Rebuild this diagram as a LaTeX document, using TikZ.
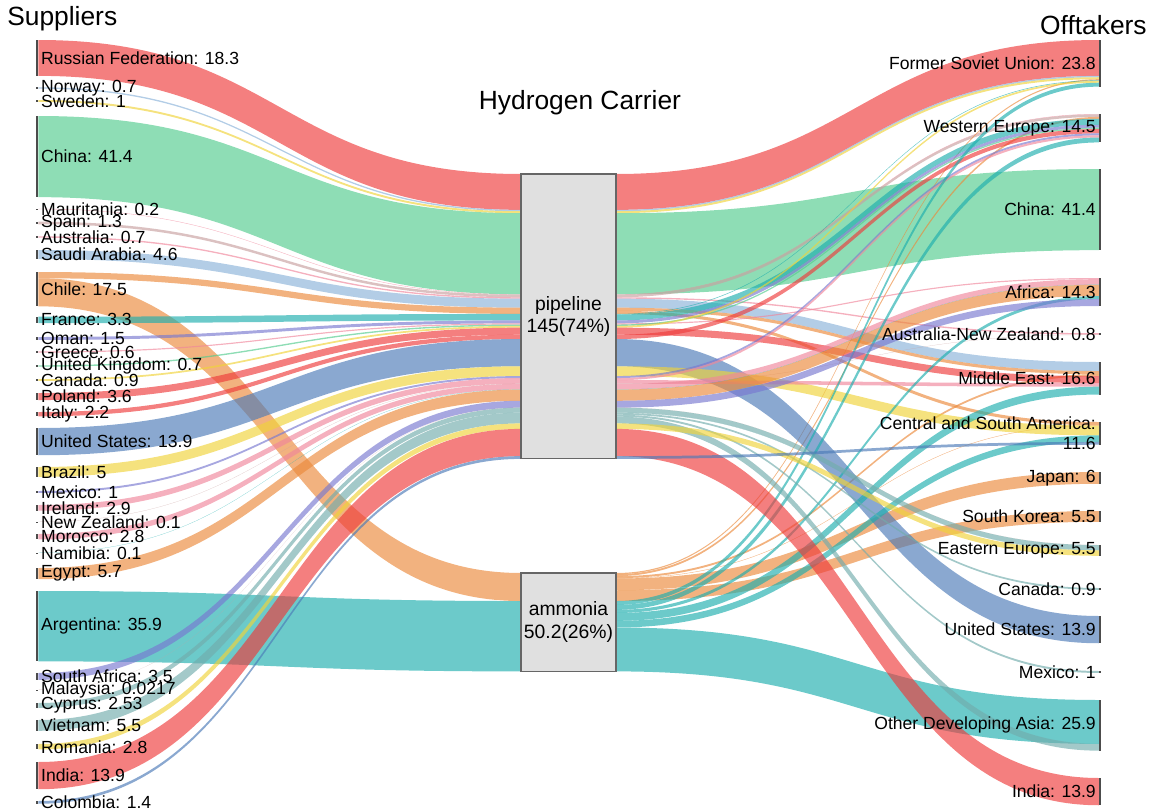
\documentclass[tikz,border=0pt]{standalone}
\usepackage{fontspec}
\setmainfont{Liberation Sans}
\usepackage{tikz}
\usetikzlibrary{positioning}
\usetikzlibrary{calc}
\usetikzlibrary{backgrounds}

\definecolor{cred}{HTML}{EE3B3B}
\definecolor{cgreen}{HTML}{52CB8D}
\definecolor{clblue}{HTML}{8AB2D9}
\definecolor{corange}{HTML}{EB893A}
\definecolor{cteal}{HTML}{1DAEAE}
\definecolor{cpurple}{HTML}{7878D0}
\definecolor{cpink}{HTML}{F0869B}
\definecolor{cyellow}{HTML}{F0D339}
\definecolor{csteel}{HTML}{4B7AB7}
\definecolor{cgteal}{HTML}{72ACAC}
\definecolor{cgray}{HTML}{C8A0A0}

\tikzstyle{sbar}=[rectangle, fill=black!70, inner sep=0pt, outer sep=0pt, minimum width=0.05cm, anchor=north]
\tikzstyle{slabel}=[anchor=west, inner sep=0pt, xshift=1.5pt, align=left, font=\fontsize{10}{11.5}\selectfont]
\tikzstyle{olabel}=[anchor=east, inner sep=0pt, xshift=-1.5pt, align=right, font=\fontsize{10}{11.5}\selectfont]
\tikzstyle{carrier}=[rectangle, draw=black!60, fill=black!12, line width=0.6pt, inner sep=0pt, outer sep=0pt, minimum width=1.9cm, anchor=north, align=center, font=\fontsize{11}{13}\selectfont]
\tikzstyle{title}=[inner sep=0pt, font=\fontsize{15}{18}\selectfont]
\tikzstyle{ribbon}=[fill opacity=.65]

% one band from #1 to #2, value #3, colour #4; bands stack at both ends
\newcommand{\flow}[4]{%
  \pgfmathsetmacro{\ya}{\csname o@#1\endcsname}%
  \pgfmathsetmacro{\yb}{\csname i@#2\endcsname}%
  \pgfmathsetmacro{\fh}{#3*1.96}%
  \fill[ribbon, #4] let \p1=($(#1.north east)+(0,\ya)$), \p2=($(#2.north west)+(0,\yb)$),
    \p3=($(#1.north east)+(0,\ya+\fh)$), \p4=($(#2.north west)+(0,\yb+\fh)$) in
    (\p1) .. controls ({(\x1+\x2)/2},\y1) and ({(\x1+\x2)/2},\y2) .. (\p2)
    -- (\p4) .. controls ({(\x3+\x4)/2},\y4) and ({(\x3+\x4)/2},\y3) .. (\p3) -- cycle;
  \pgfmathsetmacro{\ya}{\ya+\fh}\expandafter\xdef\csname o@#1\endcsname{\ya}%
  \pgfmathsetmacro{\yb}{\yb+\fh}\expandafter\xdef\csname i@#2\endcsname{\yb}%
}

\begin{document}
\begin{tikzpicture}[x=0.02cm, y=-0.02cm]
    \useasboundingbox (0,0) rectangle (1154,812);

    \node [title, anchor=west] (sup-title) at (7,19) {Suppliers};
    \node [title, anchor=east] (off-title) at (1147,25) {Offtakers};
    \node [title] (car-title) at (580,103) {Hydrogen Carrier};

    % suppliers
    \foreach \nm/\yt/\val/\txt in {sup-russia/40/18.3/{Russian Federation: 18.3},
      sup-norway/87.3/0.7/{Norway: 0.7}, sup-sweden/100/1/{Sweden: 1},
      sup-china/116/41.4/{China: 41.4}, sup-mauritania/208.8/0.2/{Mauritania: 0.2},
      sup-spain/221.7/1.3/{Spain: 1.3}, sup-australia/236.3/0.7/{Australia: 0.7},
      sup-saudi/250/4.6/{Saudi Arabia: 4.6}, sup-chile/272/17.5/{Chile: 17.5},
      sup-france/316.7/3.3/{France: 3.3}, sup-oman/337/1.5/{Oman: 1.5},
      sup-greece/351.4/0.6/{Greece: 0.6}, sup-uk/365.3/0.7/{United Kingdom: 0.7},
      sup-canada/379.1/0.9/{Canada: 0.9}, sup-poland/393/3.6/{Poland: 3.6},
      sup-italy/412/2.2/{Italy: 2.2}, sup-us/428/13.9/{United States: 13.9},
      sup-brazil/467/5/{Brazil: 5}, sup-mexico/491/1/{Mexico: 1},
      sup-ireland/505/2.9/{Ireland: 2.9}, sup-nz/521.5/0.1/{New Zealand: 0.1},
      sup-morocco/534/2.8/{Morocco: 2.8}, sup-namibia/552.5/0.1/{Namibia: 0.1},
      sup-egypt/568/5.7/{Egypt: 5.7}, sup-argentina/591/35.9/{Argentina: 35.9},
      sup-southafrica/673/3.5/{South Africa: 3.5}, sup-malaysia/689.5/0.0217/{Malaysia: 0.0217},
      sup-cyprus/703/2.53/{Cyprus: 2.53}, sup-vietnam/720/5.5/{Vietnam: 5.5},
      sup-romania/744/2.8/{Romania: 2.8}, sup-india/762/13.9/{India: 13.9},
      sup-colombia/801/1.4/{Colombia: 1.4}} {
      \pgfmathsetmacro{\nh}{max(\val*1.96,1.2)*0.02}
      \node [sbar, minimum height=\nh cm] (\nm) at (37,\yt) {};
      \node [slabel] (\nm-l) at (\nm.east) {\txt};
      \expandafter\xdef\csname o@\nm\endcsname{0}
    }

    % offtakers
    \foreach \nm/\yt/\val/\txt in {off-fsu/40/23.8/{Former Soviet Union: 23.8},
      off-we/114/14.5/{Western Europe: 14.5}, off-china/169/41.4/{China: 41.4},
      off-africa/278/14.3/{Africa: 14.3}, off-anz/333.2/0.8/{Australia-New Zealand: 0.8},
      off-me/362/16.6/{Middle East: 16.6}, off-csa/422/11.6/{Central and South America:\\11.6},
      off-japan/472/6/{Japan: 6}, off-korea/511/5.5/{South Korea: 5.5},
      off-ee/545/5.5/{Eastern Europe: 5.5}, off-canada/588/0.9/{Canada: 0.9},
      off-us/616/13.9/{United States: 13.9}, off-mexico/671/1/{Mexico: 1},
      off-oda/700/25.9/{Other Developing Asia: 25.9}, off-india/778/13.9/{India: 13.9}} {
      \pgfmathsetmacro{\nh}{max(\val*1.96,1.2)*0.02}
      \node [sbar, minimum height=\nh cm] (\nm) at (1100,\yt) {};
      \node [olabel] (\nm-l) at (\nm.west) {\txt};
      \expandafter\xdef\csname i@\nm\endcsname{0}
    }

    % carriers
    \node [carrier, minimum height=5.698cm] (pipeline) at (568.5,174) {pipeline\\145(74\%)};
    \node [carrier, minimum height=1.968cm] (ammonia) at (568.5,573) {ammonia\\50.2(26\%)};
    \foreach \nm in {pipeline, ammonia} {
      \expandafter\xdef\csname o@\nm\endcsname{0}
      \expandafter\xdef\csname i@\nm\endcsname{0}
    }

    \begin{scope}[on background layer]
    % suppliers to carriers
    \foreach \fs/\ft/\fv/\fc in {sup-russia/pipeline/18.3/cred, sup-norway/pipeline/0.7/clblue,
      sup-sweden/pipeline/1/cyellow, sup-china/pipeline/41.4/cgreen,
      sup-mauritania/pipeline/0.2/cpink, sup-spain/pipeline/1.3/cgray,
      sup-australia/pipeline/0.7/cpink, sup-saudi/pipeline/4.6/clblue,
      sup-chile/pipeline/3.2/corange, sup-chile/ammonia/14.3/corange,
      sup-france/pipeline/3.3/cteal, sup-oman/pipeline/1.5/cpurple,
      sup-greece/pipeline/0.6/cpink, sup-uk/pipeline/0.7/cgreen,
      sup-canada/pipeline/0.9/cyellow, sup-poland/pipeline/3.6/cred,
      sup-italy/pipeline/2.2/cred, sup-us/pipeline/13.9/csteel,
      sup-brazil/pipeline/5/cyellow, sup-mexico/pipeline/1/cpurple,
      sup-ireland/pipeline/2.9/cpink, sup-nz/pipeline/0.1/cgray,
      sup-morocco/pipeline/2.8/cpink, sup-namibia/pipeline/0.1/cteal,
      sup-egypt/pipeline/5.7/corange, sup-argentina/ammonia/35.9/cteal,
      sup-southafrica/pipeline/3.5/cpurple, sup-malaysia/pipeline/0.0217/cgray,
      sup-cyprus/pipeline/2.53/cgteal, sup-vietnam/pipeline/5.5/cgteal,
      sup-romania/pipeline/2.8/cyellow, sup-india/pipeline/13.9/cred,
      sup-colombia/pipeline/1.4/csteel}
      {\flow{\fs}{\ft}{\fv}{\fc}}

    % carriers to offtakers, in supplier order
    \foreach \fs/\ft/\fv/\fc in {pipeline/off-fsu/18.3/cred, pipeline/off-fsu/0.7/clblue,
      pipeline/off-fsu/1/cyellow, pipeline/off-china/41.4/cgreen,
      pipeline/off-we/0.2/cpink, pipeline/off-we/1.3/cgray,
      pipeline/off-anz/0.7/cpink, pipeline/off-me/4.6/clblue,
      pipeline/off-me/1.6/corange, pipeline/off-csa/1.6/corange,
      ammonia/off-fsu/0.6/corange, ammonia/off-we/1/corange,
      ammonia/off-me/1/corange, ammonia/off-csa/0.2/corange,
      ammonia/off-japan/6/corange, ammonia/off-korea/5.5/corange,
      pipeline/off-fsu/0.3/cteal, pipeline/off-we/3/cteal,
      pipeline/off-we/1.5/cpurple, pipeline/off-africa/0.6/cpink,
      pipeline/off-we/0.7/cgreen, pipeline/off-fsu/0.9/cyellow,
      pipeline/off-me/3.6/cred, pipeline/off-we/2.2/cred,
      pipeline/off-us/13.9/csteel, pipeline/off-csa/5/cyellow,
      pipeline/off-we/1/cpurple, pipeline/off-we/1.1/cpink,
      pipeline/off-me/1.8/cpink, pipeline/off-anz/0.1/cgray,
      pipeline/off-africa/2.8/cpink, pipeline/off-africa/0.1/cteal,
      pipeline/off-africa/5.7/corange,
      ammonia/off-fsu/2/cteal, ammonia/off-we/2.5/cteal,
      ammonia/off-africa/1.6/cteal, ammonia/off-me/4/cteal,
      ammonia/off-csa/3.4/cteal, ammonia/off-oda/22.4/cteal,
      pipeline/off-africa/3.5/cpurple,
      pipeline/off-ee/0.0217/cgray, pipeline/off-ee/2.53/cgteal,
      pipeline/off-ee/0.15/cgteal, pipeline/off-canada/0.9/cgteal,
      pipeline/off-mexico/1/cgteal, pipeline/off-oda/3.45/cgteal,
      pipeline/off-ee/2.8/cyellow, pipeline/off-india/13.9/cred,
      pipeline/off-csa/1.4/csteel}
      {\flow{\fs}{\ft}{\fv}{\fc}}
    \end{scope}
\end{tikzpicture}
\end{document}
